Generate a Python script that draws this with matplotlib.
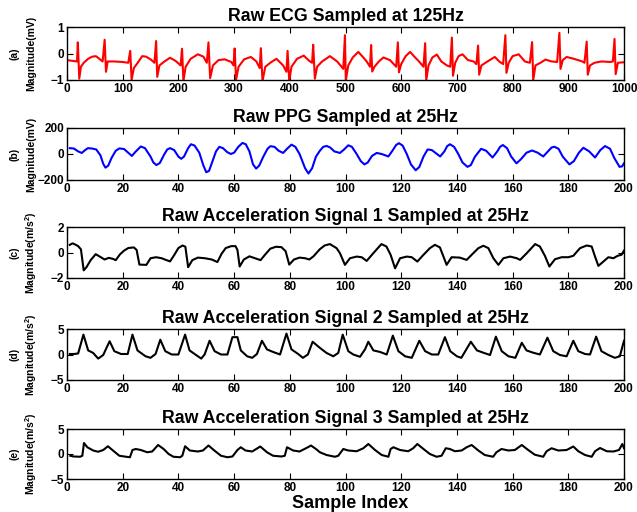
import numpy as np
import matplotlib
matplotlib.use('Agg')
import matplotlib.pyplot as plt

plt.rcParams['font.family'] = ['Liberation Sans', 'DejaVu Sans']
plt.rcParams['font.weight'] = 'bold'
plt.rcParams['mathtext.fontset'] = 'custom'
plt.rcParams['mathtext.bf'] = 'Liberation Sans:bold'
plt.rcParams['mathtext.rm'] = 'Liberation Sans:bold'

# ---------------- data ----------------
ecg_x = [0, 10, 18, 19.4, 22, 25, 30, 38, 45, 52, 58, 64, 67.6, 70, 73, 85, 100, 110,
         113.5, 116, 120, 127, 135, 142, 150, 157, 160, 162, 166, 175, 185, 195, 204,
         206.5, 209, 213, 222, 235, 245, 251, 254, 257, 262, 272, 283, 295, 299,
         301, 303.5, 308, 318, 330, 340, 346, 348, 351, 356, 365, 376, 388, 394,
         396, 399, 403, 413, 425, 435, 440, 442, 445, 449, 458, 472, 485, 496,
         499, 500.5, 505, 513, 523, 532, 538, 544, 546, 548, 552, 560, 568, 580, 591,
         594, 596, 600, 608, 616, 625, 632, 640, 643, 645, 649, 656, 664, 672, 682, 688,
         691, 693, 697, 703, 710, 720, 730, 735, 738, 740, 744, 755, 768, 776, 783,
         787, 789, 793, 800, 811, 822, 831, 835, 837, 841, 850, 859, 870, 880,
         884, 886, 890, 897, 910, 925, 929, 933, 935, 939, 947, 960, 975, 980,
         983, 985, 989, 1000]
ecg_y = [-0.25, -0.28, -0.3, 0.42, -0.95, -0.5, -0.35, -0.2, -0.12, -0.1, -0.2, -0.3, 0.52, -0.69, -0.3, -0.3, -0.32, -0.35,
         0.1, -1.0, -0.55, -0.35, -0.1, -0.12, -0.22, -0.35, 0.47, -0.88, -0.45, -0.3, -0.16, -0.28, -0.45,
         0.18, -1.04, -0.5, -0.2, -0.03, -0.12, -0.35, 0.42, -0.93, -0.45, -0.25, -0.22, -0.32, -0.45,
         0.19, -0.99, -0.5, -0.22, -0.13, -0.3, -0.55, 0.2, -1.04, -0.5, -0.35, -0.2, -0.45, -0.69,
         0.1, -1.04, -0.5, -0.2, -0.08, -0.28, -0.35, 0.33, -0.95, -0.5, -0.3, -0.1, -0.3, -0.58,
         0.69, -1.01, -0.45, -0.15, 0.06, -0.15, -0.3, -0.5, 0.32, -0.68, -0.5, -0.3, -0.15, -0.25, -0.5,
         0.42, -0.71, -0.4, -0.1, 0.06, -0.15, -0.3, -0.5, 0.39, -1.01, -0.45, -0.15, -0.04, -0.3, -0.45, -0.5,
         0.6, -0.84, -0.35, -0.1, -0.03, -0.25, -0.3, -0.4, 0.3, -0.8, -0.45, -0.3, -0.13, -0.3, -0.4,
         0.69, -0.73, -0.35, -0.1, -0.03, -0.3, -0.35, 0.43, -1.01, -0.45, -0.35, -0.23, -0.3, -0.32,
         0.78, -0.58, -0.25, -0.13, -0.2, -0.3, -0.35, 0.45, -0.8, -0.45, -0.35, -0.3, -0.32, -0.3,
         0.55, -0.78, -0.35, -0.33]

ppg_x = [1, 2.5, 4, 5.3, 6.5, 7.5, 9, 10.5, 12, 13, 13.8, 14.8, 16, 17.5, 18.8, 20.5, 22, 23.3,
         24.5, 26.5, 28, 30, 31, 32.1, 33.3, 35, 36, 37, 38.5, 40, 41, 42, 43.5, 44.5, 45.8,
         47.5, 49, 50, 51, 52.5, 53.5, 54.7, 56, 57.5, 58.8, 60, 61.5, 63, 64.2, 65.5, 66.8,
         67.9, 69, 70.5, 72, 73, 74.5, 76, 77.6, 79, 80.6, 82, 83.5, 85.5, 86.7, 88, 89.4,
         90.8, 92, 93.2, 94.5, 96, 98, 99.5, 101, 102.3, 104, 105.5, 106.8, 108, 109.5, 111.2,
         113, 115.4, 117, 118.2, 119.2, 120.5, 122, 123.5, 125.2, 126.5, 128, 129.5, 131, 132.5,
         134, 135.5, 136.5, 137.5, 139, 140.5, 142, 143.8, 145, 146.5, 148.7, 150.5, 152.8,
         154.5, 155.5, 156.5, 158, 159.5, 161.4, 163, 165, 167, 169, 171, 172.5, 174, 175,
         176.5, 178, 180.4, 182, 183.8, 185.4, 187.5, 189.6, 191.5, 193.2, 195, 196.5, 198.4,
         199.3, 200]
ppg_y = [45, 42, 20, 8, 30, 45, 42, 35, -10, -75, -105, -90, -30, 25, 43, 38, 10, -15,
         15, 58, 45, -20, -65, -85, -70, 0, 35, 45, 30, -20, -37, -20, 45, 75, 65,
         10, -90, -140, -130, -40, 20, 55, 45, 15, 0, 10, 55, 85, 75, 20, -80,
         -112, -90, -20, 40, 60, 55, 25, 8, 40, 72, 55, 0, -110, -150, -110, -20,
         25, 55, 62, 50, 20, 8, 35, 67, 55, 0, -55, -80, -65, -15, 8,
         0, -19, 30, 70, 83, 65, 0, -80, -125, -100, -20, 35, 30, 5,
         -19, 20, 60, 75, 55, 0, -65, -99, -85, -20, 40, 25, -27,
         20, 55, 69, 45, -20, -72, -40, 10, 27, 10, -19, 15, 50, 56,
         40, -20, -80, -55, 10, 48, 20, -27, 30, 61, 40, -30, -99,
         -95, -72]

acc1_x = [1, 2, 3, 4, 5, 6, 7, 8.5, 10.3, 12, 13.5, 15, 16.5, 17.5, 19, 20.5, 22, 24, 25,
          26, 28.5, 30, 32, 34, 35.5, 37, 38.5, 40, 41.5, 42.5, 43.5, 45, 47, 49.5, 52, 54,
          55.5, 57, 59, 60.5, 61.2, 62, 63.5, 65.5, 67.5, 69.5, 71, 73, 75, 77, 78.5, 79.8,
          81.5, 83.5, 85.5, 87, 88.5, 90.8, 92.5, 94.4, 96.8, 98, 99.8, 101.6, 104, 105.8,
          107.6, 110, 112.9, 114.7, 116.2, 117.8, 119.6, 122, 123.8, 125.8, 128, 130.3,
          132.1, 133.9, 135.4, 136.3, 138.1, 141, 143.5, 145.3, 147.7, 149.5, 151.3, 153.1,
          154.9, 156.7, 159.1, 161.5, 162.7, 165.1, 168.1, 169.8, 171.6, 173.2, 175.2,
          177.6, 180, 181.8, 184.2, 186.6, 188.4, 189.6, 190.8, 192.6, 194.4, 196.2, 197.7,
          199.1, 200]
acc1_y = [0.6, 0.72, 0.62, 0.5, 0.25, -1.4, -1.15, -0.6, -0.13, -0.35, -0.55, -0.42, -0.5, -0.6, -0.15, 0.15, 0.35, 0.4, 0.2,
          -0.95, -0.97, -0.45, -0.37, -0.45, -0.58, -0.7, -0.2, 0.35, 0.55, 0.45, -1.15, -0.6, -0.4, -0.45, -0.55, -0.75,
          -0.1, 0.35, 0.5, 0.5, 0.2, -1.1, -0.55, -0.3, -0.45, -0.6, -0.2, 0.3, 0.45, 0.42, 0.1, -0.95,
          -0.55, -0.4, -0.45, -0.55, -0.3, 0.26, 0.55, 0.66, 0.34, -0.05, -0.97, -0.45, -0.32, -0.37,
          -0.66, -0.05, 0.66, 0.47, -0.18, -1.24, -0.45, -0.32, -0.37, -0.71, -0.18, 0.34,
          0.6, 0.4, -0.45, -0.97, -0.37, -0.4, -0.58, -0.18, 0.34, 0.53, 0.34, -0.45,
          -0.97, -0.45, -0.32, -0.45, -0.58, -0.05, 0.66, 0.47, -0.26, -1.1, -0.53,
          -0.37, -0.37, -0.26, 0.34, 0.55, 0.47, -0.32, -1.05, -0.71, -0.37, -0.45, -0.26,
          -0.18, 0.15]

acc2_x = [1, 2.5, 4, 5.9, 7.6, 9.4, 11.2, 13, 15.3, 17, 19.4, 21.8, 23.5, 25.3, 28.2, 30, 31.8,
          33.5, 35.3, 37.6, 40, 42.4, 44, 47, 48.2, 49.4, 51.2, 53, 55.3, 57.6, 59.4, 61.2,
          62.4, 64.7, 66.5, 68.2, 70, 71.8, 74, 76.5, 78.8, 80.6, 83, 84.7, 86.5, 88.2,
          90.8, 93.2, 95.6, 97.4, 99, 101, 102.8, 105.2, 107, 108.2, 110, 112.4, 114.8,
          117, 119, 121.4, 123.8, 126.5, 128.6, 131, 133.3, 135.7, 137.6, 140, 141.6, 145,
          147.2, 149.5, 151.9, 154, 156.1, 158.5, 161, 163.3, 165, 167.4, 169.8, 172.5,
          174.6, 177, 179.4, 181.8, 183.6, 186, 187.8, 190, 191.9, 194.4, 196.7, 198.5, 200]
acc2_y = [0.1, 0.1, 0.2, 3.9, 0.8, 0.3, -0.8, -0.1, 2.6, 0.65, 0.1, 0.1, 3.9, 0.8, -0.35, -0.65, 0.1,
          2.9, 0.65, 0.0, 0.0, 3.9, 0.8, -0.35, -0.8, 0.0, 2.7, 0.65, 0.0, 0.0, 3.4, 3.4,
          0.8, -0.35, -0.65, 0.1, 2.7, 1.0, 0.5, 0.0, 4.1, 1.0, 0.1, -0.65, 0.0, 2.5,
          1.3, 0.3, -0.35, 0.3, 3.9, 0.65, 0.0, -0.45, 1.0, 2.5, 0.8, 0.5, 0.0,
          3.7, 0.65, -0.35, -0.65, 2.7, 0.65, 0.0, 0.0, 3.4, 0.65, -0.35, -0.65, 2.5,
          0.8, 0.35, -0.1, 3.5, 0.65, -0.35, -0.65, 2.3, 0.8, 0.35, 0.0, 3.3,
          0.65, -0.1, -0.35, 2.7, 0.65, 0.1, 0.0, 3.5, 0.65, -0.1, -0.65, -0.35, 2.7]

acc3_x = [1.2, 2.4, 4.7, 5.5, 6.1, 7.3, 9.4, 11.2, 13, 14.7, 16.5, 18.8, 21.2, 22.6, 23.5, 24.7,
          26.5, 28.8, 30.6, 32.7, 34.7, 36.5, 38.2, 40.6, 41.4, 42.4, 44.1, 47, 48.8, 50.8,
          52.9, 55.3, 57.6, 59.4, 61.2, 62.4, 64.1, 66.5, 69.4, 71.8, 74, 77, 78.2, 79,
          81.2, 83.5, 86.5, 87.6, 89.4, 90.8, 93.2, 96.2, 97.4, 99.2, 101, 104, 106.4,
          108.2, 110.6, 113, 115.4, 116.2, 117.2, 119.6, 122.5, 124.3, 125.8, 128, 130.3,
          132.7, 134.5, 136, 137.5, 139.3, 141.7, 143.5, 145.3, 147.7, 150, 153, 154.2,
          156, 158.5, 160.8, 163.3, 165.6, 168, 171, 172.2, 174, 176.4, 179.4, 181.8,
          183.6, 186, 188.4, 189.6, 191.4, 193.8, 196.2, 198.2, 199.4, 200]
acc3_y = [-0.35, -0.5, -0.55, -0.35, 2.2, 1.35, 0.7, 0.45, 0.8, 1.55, 0.7, -0.35, -0.55, -0.65, 0.8, 1.0,
          0.8, 0.35, 0.5, 1.8, 1.0, 0.0, -0.55, -0.65, -0.35, 1.55, 0.7, 0.5, 0.7, 1.7,
          0.7, -0.35, -0.65, -0.5, 0.8, 1.35, 0.7, 0.5, 1.5, 0.35, -0.35, -0.5, -0.35, 1.35,
          0.7, 0.5, 1.35, 1.7, 1.0, 0.35, -0.2, -0.55, -0.35, 1.0, 0.7, 0.55, 1.15,
          2.0, 0.8, -0.2, -0.55, 1.0, 1.35, 0.8, 0.55, 1.15, 2.0, 1.0, 0.0,
          -0.55, -0.35, 1.15, 1.0, 0.55, 0.7, 1.35, 1.8, 0.7, -0.2, -0.55, 0.35,
          1.0, 0.7, 0.8, 1.8, 0.8, -0.15, -0.55, 0.55, 1.15, 0.7, 0.8, 1.5,
          0.55, -0.2, -0.55, 0.55, 1.2, 0.55, 0.5, 0.8, 2.0, 1.15]

titles = ['Raw ECG Sampled at 125Hz', 'Raw PPG Sampled at 25Hz',
          'Raw Acceleration Signal 1 Sampled at 25Hz',
          'Raw Acceleration Signal 2 Sampled at 25Hz',
          'Raw Acceleration Signal 3 Sampled at 25Hz']
panel_tags = ['(a)', '(b)', '(c)', '(d)', '(e)']
units = ['Magnitude(mV)', 'Magnitude(mV)', r'Magnitude(m/s$^{\mathbf{2}}$)',
         r'Magnitude(m/s$^{\mathbf{2}}$)', r'Magnitude(m/s$^{\mathbf{2}}$)']
ylims = [(-1, 1), (-200, 200), (-2, 2), (-5, 5), (-5, 5)]
xmaxes = [1000, 200, 200, 200, 200]
xsteps = [100, 20, 20, 20, 20]

series = [(ecg_x, ecg_y, 'r'), (ppg_x, ppg_y, 'b'), (acc1_x, acc1_y, 'k'),
          (acc2_x, acc2_y, 'k'), (acc3_x, acc3_y, 'k')]

# ---------------- layout (pixel boxes: top, bottom) ----------------
W, H = 637, 512
fig = plt.figure(figsize=(W / 100, H / 100), dpi=100)
boxes = [(27, 80), (128, 180), (227, 278), (329, 380), (429, 479)]
left, right = 67, 624

for i, (top, bot) in enumerate(boxes):
    ax = fig.add_axes([left / W, 1 - bot / H, (right - left) / W, (bot - top) / H])
    xs, ys, c = series[i]
    ax.plot(xs, ys, color=c, lw=1.5)
    ax.set_xlim(0, xmaxes[i])
    ax.set_ylim(*ylims[i])
    ax.set_xticks(np.arange(0, xmaxes[i] + 1, xsteps[i]))
    lo, hi = ylims[i]
    ax.set_yticks([lo, 0, hi])
    ax.tick_params(direction='in', top=True, right=True, length=4, width=0.8,
                   labelsize=8.5, pad=2)
    for lab in ax.get_xticklabels() + ax.get_yticklabels():
        lab.set_fontweight('bold')
    for s in ax.spines.values():
        s.set_linewidth(1.0)
    ax.set_title(titles[i], fontsize=12.8, fontweight='bold', pad=4)
    cy = 1 - (top + bot) / 2 / H
    fig.text(14 / W, cy, panel_tags[i], rotation=90, ha='center', va='center',
             fontsize=7.5, fontweight='bold')
    fig.text(31 / W, cy, units[i], rotation=90, ha='center', va='center',
             fontsize=7.5, fontweight='bold')

fig.text(350 / W, 1 - 503.5 / H, 'Sample Index', ha='center', va='center',
         fontsize=13, fontweight='bold')

fig.savefig('out.png', dpi=100)
